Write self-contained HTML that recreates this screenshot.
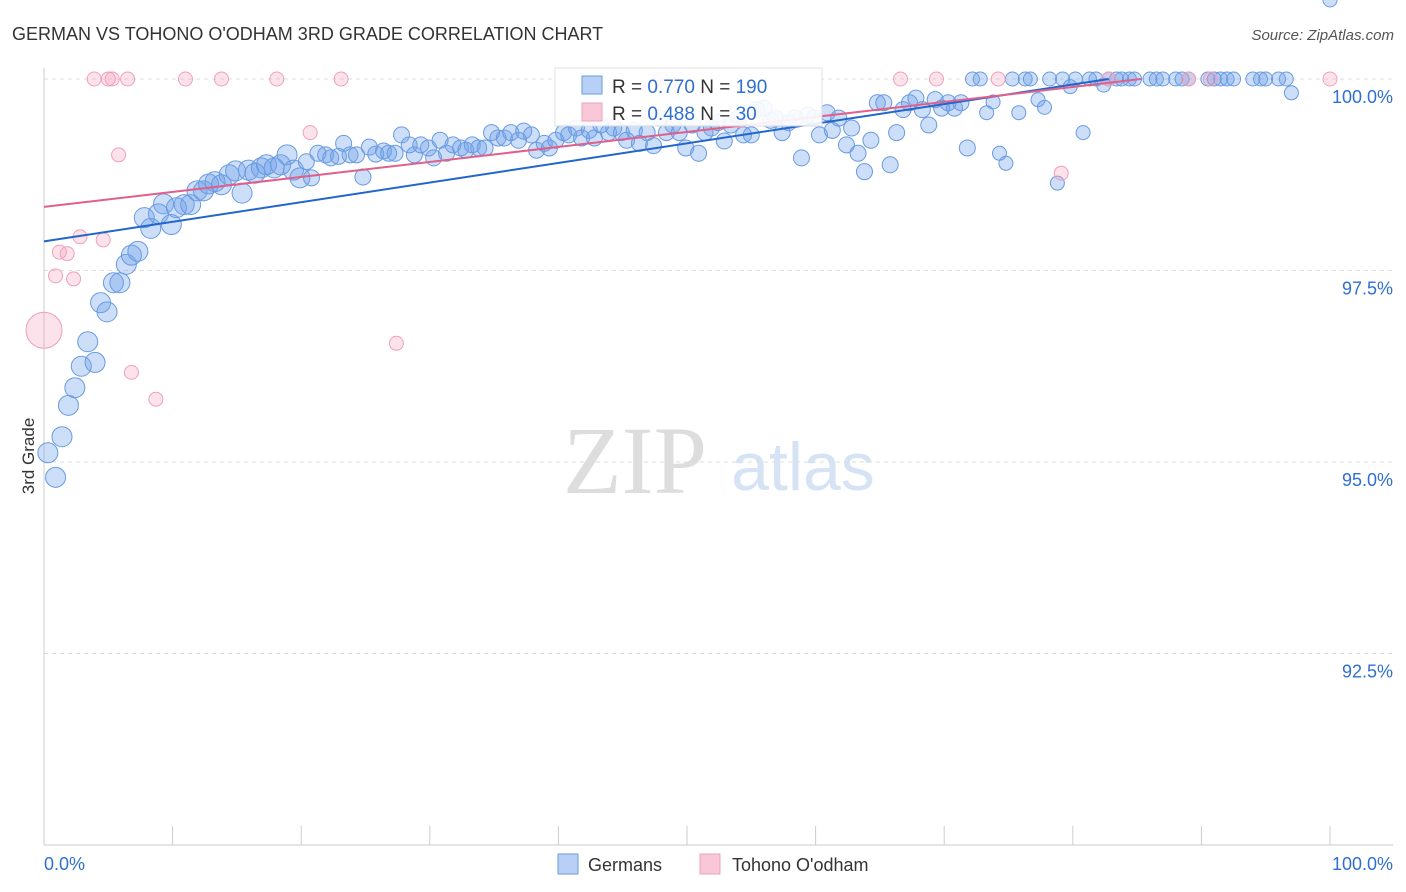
<!DOCTYPE html>
<html><head><meta charset="utf-8"><style>
body{margin:0;background:#fff;font-family:"Liberation Sans",sans-serif}
svg{display:block}
</style></head><body>
<svg width="1406" height="892" id="chart">
<text x="12" y="40" font-size="18" fill="#333">GERMAN VS TOHONO O'ODHAM 3RD GRADE CORRELATION CHART</text>
<text x="1394" y="40" font-size="15" fill="#555" font-style="italic" text-anchor="end">Source: ZipAtlas.com</text>
<text x="34" y="456" font-size="17" fill="#333" transform="rotate(-90 34 456)" text-anchor="middle">3rd Grade</text>
<text x="635" y="493" font-size="96" fill="#ddd" font-family="Liberation Serif,serif" text-anchor="middle">ZIP</text>
<text x="803" y="490" font-size="68" fill="#d6e3f5" text-anchor="middle">atlas</text>
<g id="grid"></g><g id="axes"></g><g id="pts"></g><g id="lines"></g>
<g>
<rect x="555" y="68" width="267" height="58" fill="#fff" stroke="#ddd" opacity="0.9"/>
<rect x="582" y="76" width="20" height="18" fill="#b8d0f5" stroke="#6a9be0"/>
<text x="612" y="93" font-size="19" fill="#333">R = <tspan fill="#2f6fd0">0.770</tspan>   N = <tspan fill="#2f6fd0">190</tspan></text>
<rect x="582" y="103" width="20" height="18" fill="#f8c8d8" stroke="#f0a0b8"/>
<text x="612" y="120" font-size="19" fill="#333">R = <tspan fill="#2f6fd0">0.488</tspan>   N = <tspan fill="#2f6fd0"> 30</tspan></text>
</g>
<g>
<rect x="558" y="854" width="20" height="20" fill="#b8d0f5" stroke="#6a9be0"/>
<text x="588" y="871" font-size="18" fill="#333">Germans</text>
<rect x="700" y="854" width="20" height="20" fill="#f8c8d8" stroke="#f0a0b8"/>
<text x="732" y="871" font-size="18" fill="#333">Tohono O'odham</text>
</g>
</svg>
<script>
const blueX=[0.3,0.9,1.4,1.9,2.4,2.9,3.4,3.97,4.4,4.9,5.4,5.9,6.4,6.8,7.3,7.8,8.3,8.9,9.3,9.9,10.3,10.9,11.4,11.9,12.4,12.8,13.3,13.8,14.4,14.9,15.4,15.9,16.4,16.9,17.3,17.9,18.4,18.9,19.4,19.9,20.4,20.8,21.3,21.9,22.3,22.9,23.3,23.8,24.3,24.8,25.3,25.8,26.4,26.8,27.3,27.8,28.4,28.8,29.3,29.9,30.3,30.8,31.3,31.8,32.4,32.8,33.3,33.8,34.3,34.8,35.3,35.8,36.3,36.9,37.3,37.9,38.3,38.9,39.3,39.8,40.4,40.8,41.4,41.8,42.4,42.8,43.3,43.9,44.3,44.9,45.3,45.9,46.3,46.9,47.4,47.9,48.4,48.9,49.4,49.9,50.4,50.9,51.4,51.9,52.4,52.9,53.4,54,54.4,55,55.4,56,56.5,56.9,57.4,57.9,58.4,58.9,59.4,59.9,60.3,60.9,61.3,61.8,62.4,62.8,63.3,63.8,64.3,64.8,65.3,65.8,66.3,66.8,67.3,67.8,68.3,68.8,69.3,69.8,70.3,70.8,71.3,71.8,72.2,72.8,73.3,73.8,74.3,74.8,75.3,75.8,76.3,76.7,77.3,77.8,78.2,78.8,79.2,79.8,80.2,80.8,81.3,81.8,82.4,82.8,83.4,83.8,84.4,84.8,86,86.5,87,88,88.5,89,90.5,91,91.5,92,92.5,94,94.6,95,96,96.6,97,100];
const blueY=[95.12,94.8,95.33,95.74,95.97,96.25,96.57,96.3,97.08,96.96,97.34,97.34,97.58,97.7,97.75,98.19,98.05,98.24,98.37,98.1,98.32,98.36,98.36,98.54,98.54,98.63,98.66,98.62,98.75,98.8,98.51,98.81,98.77,98.84,98.88,98.84,98.88,99.01,98.81,98.71,98.92,98.71,99.03,99.01,98.97,98.99,99.16,99.01,99.01,98.72,99.11,99.02,99.06,99.03,99.03,99.27,99.14,99.01,99.14,99.1,98.97,99.2,99.03,99.14,99.1,99.07,99.14,99.1,99.1,99.3,99.23,99.23,99.3,99.2,99.32,99.27,99.07,99.16,99.1,99.2,99.3,99.27,99.36,99.23,99.33,99.23,99.4,99.3,99.36,99.3,99.2,99.33,99.16,99.3,99.13,99.49,99.3,99.4,99.3,99.1,99.4,99.03,99.3,99.36,99.43,99.19,99.4,99.49,99.27,99.27,99.6,99.62,99.46,99.49,99.3,99.43,99.49,98.97,99.53,99.49,99.27,99.56,99.33,99.49,99.14,99.36,99.03,98.79,99.2,99.69,99.69,98.88,99.3,99.6,99.69,99.75,99.6,99.4,99.73,99.62,99.69,99.62,99.69,99.1,100,100,99.56,99.7,99.03,98.9,100,99.56,100,100,99.73,99.63,100,98.64,100,99.9,100,99.3,100,100,99.92,100,100,100,100,100,100,100,100,100,100,100,100,100,100,100,100,100,100,100,100,100,99.82];
const pinkX=[3.9,5,5.3,6.5,11,13.8,18.1,23.1,5.8,20.7,2.8,4.6,1.2,1.8,0.9,2.3,0,6.8,8.7,27.4,48,66.6,69.4,74.2,82.8,89,90.7,100,79.1,54.1];
const pinkY=[100,100,100,100,100,100,100,100,99.01,99.3,97.94,97.9,97.74,97.72,97.43,97.39,96.72,96.17,95.82,96.55,100,100,100,100,100,100,100,100,98.77,99.46];
const yTicks=[100,97.5,95,92.5];
const yTickLabels=["100.0%","97.5%","95.0%","92.5%"];
const xTicks=[0,10,20,30,40,50,60,70,80,90,100];
const blueFit=[[0,97.88],[82.8,100]];
const pinkFit=[[0,98.33],[85.3,100]];
const X=v=>44+v*12.86, Y=v=>79+(100-v)*76.6;
const NS="http://www.w3.org/2000/svg";
function mk(p,t,a){const e=document.createElementNS(NS,t);for(const k in a)e.setAttribute(k,a[k]);document.getElementById(p).appendChild(e);return e;}
yTicks.forEach((t,i)=>{
 let g=mk('grid','line',{x1:44,x2:1393,y1:Y(t),y2:Y(t),stroke:'#ddd','stroke-dasharray':'4,4'});
 
 
 let l=mk('axes','text',{x:1393,y:Y(t)+24,'font-size':18,fill:'#2f6fd0','text-anchor':'end'});l.textContent=yTickLabels[i];
 
 
});
let ax=mk('axes','line',{x1:44,x2:1393,y1:845,y2:845,stroke:'#ccc'});


let ay=mk('axes','line',{x1:44,x2:44,y1:68,y2:845,stroke:'#ccc'});


xTicks.forEach(t=>{let e=mk('axes','line',{x1:X(t),x2:X(t),y1:826,y2:845,stroke:'#ccc'});
 
 });
let x0=mk('axes','text',{x:44,y:870,'font-size':18,fill:'#2f6fd0'});x0.textContent='0.0%';


let x1=mk('axes','text',{x:1393,y:870,'font-size':18,fill:'#2f6fd0','text-anchor':'end'});x1.textContent='100.0%';


blueX.forEach((x,i)=>{const r=x<20?10:(x>=72?7:8);
 let c=mk('pts','circle',{cx:X(x),cy:Y(blueY[i]),r:r,fill:'rgba(110,160,235,0.35)',stroke:'#6a9be0','stroke-width':1});
 
 });
pinkX.forEach((x,i)=>{const r=x===0?18:7;
 let c=mk('pts','circle',{cx:X(x),cy:Y(pinkY[i]),r:r,fill:'rgba(245,160,190,0.3)',stroke:'#f0a0b8','stroke-width':1});
 
 });
let bl=mk('lines','line',{x1:X(blueFit[0][0]),y1:Y(blueFit[0][1]),x2:X(blueFit[1][0]),y2:Y(blueFit[1][1]),stroke:'#2266cc','stroke-width':2});


let pl=mk('lines','line',{x1:X(pinkFit[0][0]),y1:Y(pinkFit[0][1]),x2:X(pinkFit[1][0]),y2:Y(pinkFit[1][1]),stroke:'#e0608a','stroke-width':2});


</script>
</body></html>
